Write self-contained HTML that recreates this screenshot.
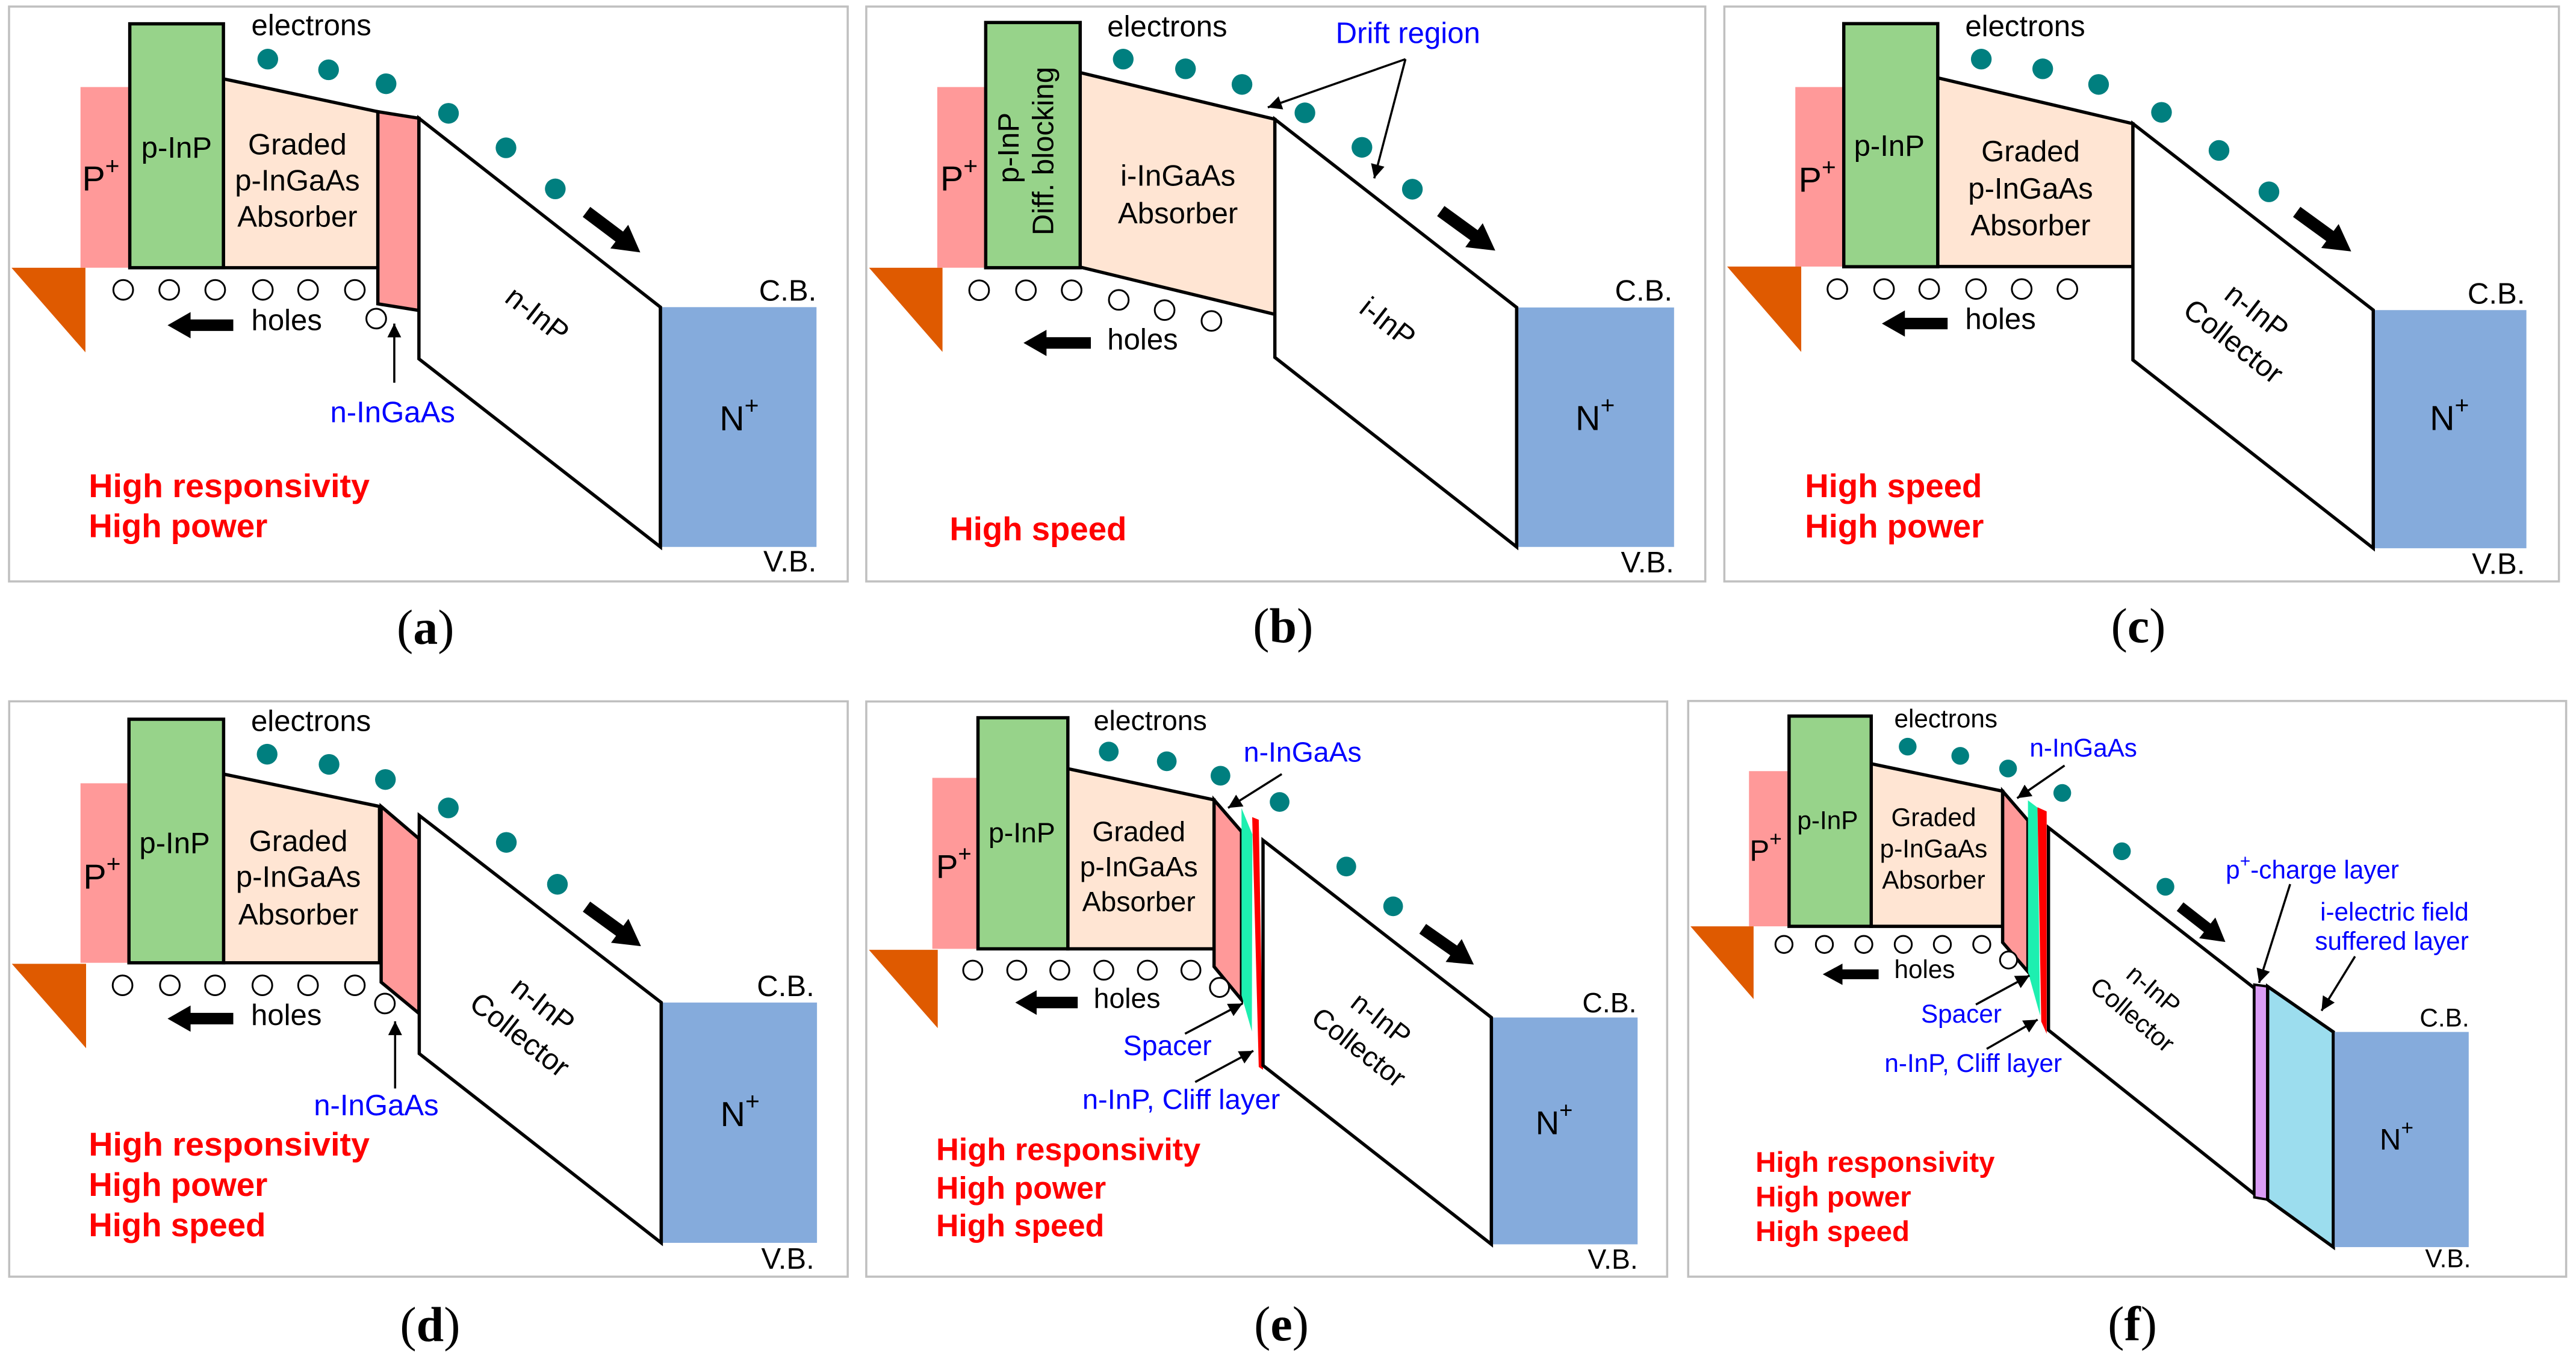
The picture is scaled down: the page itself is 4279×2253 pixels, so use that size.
<!DOCTYPE html>
<html><head><meta charset="utf-8"><style>
html,body{margin:0;padding:0;background:#fff;}
svg{display:block;}
text{font-family:"Liberation Sans",sans-serif;}
.s{stroke:#000;stroke-width:2;stroke-linejoin:miter;}
.fr{fill:none;stroke:#C0C0C0;stroke-width:1.3;}
.pk{fill:#FF9999;}
.gr{fill:#97D38A;stroke:#000;stroke-width:2;}
.ab{fill:#FFE5D3;stroke:#000;stroke-width:2;}
.co{fill:#fff;stroke:#000;stroke-width:2;}
.np{fill:#85ABDC;}
.or{fill:#DF5A00;}
.h{fill:#fff;stroke:#000;stroke-width:1.1;}
.e{fill:#007F7F;}
.red{fill:#FF0000;font-weight:bold;}
.bl{fill:#0000FF;}
.lbl{font-family:"Liberation Serif",serif;font-size:30px;}
.ln{stroke:#000;stroke-width:1.3;fill:none;}
</style></head><body>
<svg width="4279" height="2253" viewBox="0 0 1568 825.6" preserveAspectRatio="none" xmlns="http://www.w3.org/2000/svg">
<defs>
<marker id="ah" viewBox="0 0 10 10" refX="10" refY="5" markerWidth="6.5" markerHeight="6.5" orient="auto" markerUnits="strokeWidth"><path d="M0,0 L10,5 L0,10 z" fill="#000"/></marker>
</defs>

<!-- ============ (a) ============ -->
<rect class="fr" x="5.5" y="4" width="510.5" height="350"/>
<rect class="pk" x="49" y="53" width="31" height="110"/>
<polygon class="or" points="7,163 52,163 52,214.5"/>
<polygon class="ab" points="136,48 230,68 230,163 136,163"/>
<polygon class="pk s" points="230,68 255,72 255,189 230,185"/>
<polygon class="co" points="255,72 402,187 402,333 255,218.5"/>
<rect class="np" x="403" y="187" width="94" height="146"/>
<line class="s" x1="402" y1="187" x2="402" y2="333"/>
<rect class="gr" x="79" y="14.5" width="57" height="148.5"/>
<text x="50" y="116" font-size="21">P<tspan dy="-10" font-size="15">+</tspan></text>
<text x="107.5" y="96" font-size="18" text-anchor="middle">p-InP</text>
<text x="181" y="94" font-size="18" text-anchor="middle">Graded</text>
<text x="181" y="116" font-size="18" text-anchor="middle">p-InGaAs</text>
<text x="181" y="138" font-size="18" text-anchor="middle">Absorber</text>
<g class="h"><circle cx="75" cy="176.5" r="6"/><circle cx="103" cy="176.5" r="6"/><circle cx="131" cy="176.5" r="6"/><circle cx="160" cy="176.5" r="6"/><circle cx="187.5" cy="176.5" r="6"/><circle cx="216" cy="176.5" r="6"/><circle cx="229" cy="194" r="6"/></g>
<polygon transform="translate(102,198)" points="0,0 14,-8 14,-3.5 40,-3.5 40,3.5 14,3.5 14,8"/>
<text x="153" y="201" font-size="18">holes</text>
<text x="153" y="21.5" font-size="18">electrons</text>
<g class="e"><circle cx="163" cy="36" r="6.3"/><circle cx="200" cy="42.5" r="6.3"/><circle cx="235" cy="51" r="6.3"/><circle cx="273" cy="69" r="6.3"/><circle cx="308" cy="90" r="6.3"/><circle cx="338" cy="115" r="6.3"/></g>
<polygon transform="translate(357,129) rotate(37)" points="0,-3.8 25,-3.8 25,-9 41,0 25,9 25,3.8 0,3.8"/>
<text transform="translate(327,191.6) rotate(38)" y="6" font-size="18" text-anchor="middle">n-InP</text>
<text x="438" y="262" font-size="21">N<tspan dy="-10" font-size="15">+</tspan></text>
<text x="497" y="183" font-size="18" text-anchor="end">C.B.</text>
<text x="497" y="348" font-size="18" text-anchor="end">V.B.</text>
<line class="ln" x1="240" y1="233" x2="240" y2="197" marker-end="url(#ah)"/>
<text class="bl" x="239" y="257" font-size="18" text-anchor="middle">n-InGaAs</text>
<text class="red" x="54" y="302.6" font-size="20" textLength="171" lengthAdjust="spacingAndGlyphs">High responsivity</text>
<text class="red" x="54" y="327" font-size="20">High power</text>
<text class="lbl" x="259" y="392" text-anchor="middle">(<tspan font-weight="bold">a</tspan>)</text>

<!-- ============ (b) ============ -->
<rect class="fr" x="527.3" y="4" width="510.7" height="350"/>
<rect class="pk" x="570.5" y="53" width="30" height="110"/>
<polygon class="or" points="529,163 573.7,163 573.7,214.3"/>
<polygon class="ab" points="657.5,44.2 776,72.6 776,191.4 657.5,162.6"/>
<polygon class="co" points="776,72.6 923.2,187.2 923.2,333 776,217.6"/>
<rect class="np" x="924" y="187.2" width="95" height="145.8"/>
<line class="s" x1="923.2" y1="187.2" x2="923.2" y2="333"/>
<rect class="gr" x="600" y="13.7" width="57.5" height="149.3"/>
<text transform="translate(614,90) rotate(-90)" y="6" font-size="18" text-anchor="middle">p-InP</text>
<text transform="translate(635,92) rotate(-90)" y="6" font-size="18" text-anchor="middle">Diff. blocking</text>
<text x="572.4" y="116" font-size="21">P<tspan dy="-10" font-size="15">+</tspan></text>
<text x="717" y="113" font-size="18" text-anchor="middle">i-InGaAs</text>
<text x="717" y="136" font-size="18" text-anchor="middle">Absorber</text>
<g class="h"><circle cx="596" cy="176.7" r="6"/><circle cx="624.5" cy="176.7" r="6"/><circle cx="652.3" cy="176.7" r="6"/><circle cx="681" cy="182.6" r="6"/><circle cx="708.9" cy="188.8" r="6"/><circle cx="737.4" cy="195.4" r="6"/></g>
<polygon transform="translate(623,208.8)" points="0,0 14,-8 14,-3.5 41,-3.5 41,3.5 14,3.5 14,8"/>
<text x="674" y="212.7" font-size="18">holes</text>
<text x="674" y="22.2" font-size="18">electrons</text>
<g class="e"><circle cx="683.7" cy="36" r="6.3"/><circle cx="721.6" cy="41.9" r="6.3"/><circle cx="756" cy="51.4" r="6.3"/><circle cx="794.3" cy="68.7" r="6.3"/><circle cx="829" cy="89.7" r="6.3"/><circle cx="859.7" cy="115.2" r="6.3"/></g>
<polygon transform="translate(877,128.5) rotate(36)" points="0,-3.8 25,-3.8 25,-9 41,0 25,9 25,3.8 0,3.8"/>
<text class="bl" x="813" y="26.2" font-size="18">Drift region</text>
<line class="ln" x1="855.5" y1="36" x2="771.7" y2="65.4" marker-end="url(#ah)"/>
<line class="ln" x1="855.5" y1="36" x2="836.5" y2="108.6" marker-end="url(#ah)"/>
<text transform="translate(844.7,196.3) rotate(38)" y="6" font-size="18" text-anchor="middle">i-InP</text>
<text x="959" y="261.8" font-size="21">N<tspan dy="-10" font-size="15">+</tspan></text>
<text x="1018" y="183" font-size="18" text-anchor="end">C.B.</text>
<text x="1019" y="348.5" font-size="18" text-anchor="end">V.B.</text>
<text class="red" x="578" y="328.9" font-size="20">High speed</text>
<text class="lbl" x="781" y="391" text-anchor="middle">(<tspan font-weight="bold">b</tspan>)</text>

<!-- ============ (c) ============ -->
<rect class="fr" x="1049.6" y="4" width="508" height="350"/>
<rect class="pk" x="1092.8" y="53" width="30" height="109.3"/>
<polygon class="or" points="1051.3,162.3 1096.4,162.3 1096.4,214.3"/>
<polygon class="ab" points="1179.5,47.4 1298.3,75.3 1298.3,162.3 1179.5,162.3"/>
<polygon class="co" points="1298.3,75.3 1444.6,188.8 1444.6,333.8 1298.3,219.2"/>
<rect class="np" x="1445.4" y="188.8" width="92.4" height="145"/>
<line class="s" x1="1444.6" y1="188.8" x2="1444.6" y2="333.8"/>
<rect class="gr" x="1122.3" y="14.4" width="57.2" height="148"/>
<text x="1094.8" y="116.8" font-size="21">P<tspan dy="-10" font-size="15">+</tspan></text>
<text x="1150" y="94.9" font-size="18" text-anchor="middle">p-InP</text>
<text x="1236" y="98.2" font-size="18" text-anchor="middle">Graded</text>
<text x="1236" y="121" font-size="18" text-anchor="middle">p-InGaAs</text>
<text x="1236" y="143.3" font-size="18" text-anchor="middle">Absorber</text>
<g class="h"><circle cx="1118.4" cy="176" r="6"/><circle cx="1146.8" cy="176" r="6"/><circle cx="1174.3" cy="176" r="6"/><circle cx="1202.8" cy="176" r="6"/><circle cx="1230.6" cy="176" r="6"/><circle cx="1258.4" cy="176" r="6"/></g>
<polygon transform="translate(1145.5,197)" points="0,0 14,-8 14,-3.5 40,-3.5 40,3.5 14,3.5 14,8"/>
<text x="1196.2" y="200.3" font-size="18">holes</text>
<text x="1196.2" y="22" font-size="18">electrons</text>
<g class="e"><circle cx="1206" cy="36" r="6.3"/><circle cx="1243.4" cy="41.9" r="6.3"/><circle cx="1277.4" cy="51.4" r="6.3"/><circle cx="1315.7" cy="68.4" r="6.3"/><circle cx="1350.7" cy="91.6" r="6.3"/><circle cx="1381.1" cy="116.8" r="6.3"/></g>
<polygon transform="translate(1398,129) rotate(36)" points="0,-3.8 25,-3.8 25,-9 41,0 25,9 25,3.8 0,3.8"/>
<g transform="translate(1373.6,189.8) rotate(38)"><text y="6" font-size="18" text-anchor="middle">n-InP</text><text y="29" font-size="18" text-anchor="middle">Collector</text></g>
<text x="1479" y="261.8" font-size="21">N<tspan dy="-10" font-size="15">+</tspan></text>
<text x="1537" y="184.9" font-size="18" text-anchor="end">C.B.</text>
<text x="1537" y="349.5" font-size="18" text-anchor="end">V.B.</text>
<text class="red" x="1098.7" y="302.7" font-size="20">High speed</text>
<text class="red" x="1098.7" y="327.2" font-size="20">High power</text>
<text class="lbl" x="1301.6" y="391" text-anchor="middle">(<tspan font-weight="bold">c</tspan>)</text>

<!-- ============ (d) ============ -->
<rect class="fr" x="5.6" y="427" width="510.4" height="350.3"/>
<rect class="pk" x="49" y="476.9" width="30" height="109.3"/>
<polygon class="or" points="7.2,586.8 52.4,586.8 52.4,638.2"/>
<polygon class="ab" points="136.1,471.3 231,491 231,586.2 136.1,586.2"/>
<polygon class="pk s" points="232,491 255,510.6 255,617 232,598"/>
<polygon class="co" points="255.2,496.5 402.5,610.4 402.5,756.7 255.2,641.5"/>
<rect class="np" x="403.3" y="610.4" width="94" height="146.3"/>
<line class="s" x1="402.5" y1="610.4" x2="402.5" y2="756.7"/>
<rect class="gr" x="78.5" y="437.9" width="57.6" height="148.3"/>
<text x="50.7" y="541" font-size="21">P<tspan dy="-10" font-size="15">+</tspan></text>
<text x="106.3" y="519.4" font-size="18" text-anchor="middle">p-InP</text>
<text x="181.6" y="518.1" font-size="18" text-anchor="middle">Graded</text>
<text x="181.6" y="540" font-size="18" text-anchor="middle">p-InGaAs</text>
<text x="181.6" y="562.9" font-size="18" text-anchor="middle">Absorber</text>
<g class="h"><circle cx="74.6" cy="599.9" r="6"/><circle cx="103.4" cy="599.9" r="6"/><circle cx="130.9" cy="599.9" r="6"/><circle cx="159.7" cy="599.9" r="6"/><circle cx="187.5" cy="599.9" r="6"/><circle cx="216" cy="599.9" r="6"/><circle cx="234.3" cy="611" r="6"/></g>
<polygon transform="translate(102,620.2)" points="0,0 14,-8 14,-3.5 40,-3.5 40,3.5 14,3.5 14,8"/>
<text x="152.8" y="624.1" font-size="18">holes</text>
<text x="152.8" y="445.1" font-size="18">electrons</text>
<g class="e"><circle cx="162.6" cy="459.2" r="6.3"/><circle cx="200.3" cy="465.4" r="6.3"/><circle cx="234.6" cy="474.6" r="6.3"/><circle cx="272.9" cy="491.9" r="6.3"/><circle cx="308.2" cy="512.9" r="6.3"/><circle cx="339.3" cy="538.4" r="6.3"/></g>
<polygon transform="translate(357,552) rotate(36)" points="0,-3.8 25,-3.8 25,-9 41,0 25,9 25,3.8 0,3.8"/>
<g transform="translate(330.5,612) rotate(38)"><text y="6" font-size="18" text-anchor="middle">n-InP</text><text y="29" font-size="18" text-anchor="middle">Collector</text></g>
<text x="438.5" y="685.6" font-size="21">N<tspan dy="-10" font-size="15">+</tspan></text>
<text x="495.7" y="606.5" font-size="18" text-anchor="end">C.B.</text>
<text x="495.7" y="772.4" font-size="18" text-anchor="end">V.B.</text>
<line class="ln" x1="240.5" y1="662.7" x2="240.5" y2="621.8" marker-end="url(#ah)"/>
<text class="bl" x="229" y="679" font-size="18" text-anchor="middle">n-InGaAs</text>
<text class="red" x="54" y="703.6" font-size="20" textLength="171" lengthAdjust="spacingAndGlyphs">High responsivity</text>
<text class="red" x="54" y="728.2" font-size="20">High power</text>
<text class="red" x="54" y="752.7" font-size="20">High speed</text>
<text class="lbl" x="261.8" y="816.5" text-anchor="middle">(<tspan font-weight="bold">d</tspan>)</text>

<!-- ============ (e) ============ -->
<rect class="fr" x="527.3" y="427.1" width="487.5" height="350.2"/>
<rect class="pk" x="567.5" y="473.6" width="28" height="104.1"/>
<polygon class="or" points="528.9,578.3 570.8,578.3 570.8,626"/>
<polygon class="ab" points="650,468 739,487 739,577.7 650,577.7"/>
<polygon class="pk s" points="739,487 755.7,506.3 755.7,608.7 739,588.5"/>
<polygon fill="#1DEFB0" points="755.7,492 762.3,508 762,628 755.7,606"/>
<polygon fill="#FF0000" points="762.2,497.5 766.2,499.1 768.8,651.3 766.2,649.6"/>
<polygon class="co" points="768.8,511.6 907.8,619.5 907.8,757.6 768.8,648.7"/>
<rect class="np" x="908.6" y="619.5" width="88.2" height="138.1"/>
<line class="s" x1="907.8" y1="619.5" x2="907.8" y2="757.6"/>
<rect class="gr" x="595.3" y="437" width="54.7" height="140.7"/>
<text x="569.8" y="534.5" font-size="20">P<tspan dy="-10" font-size="14">+</tspan></text>
<text x="622" y="512.9" font-size="17" text-anchor="middle">p-InP</text>
<text x="693.2" y="512.2" font-size="17" text-anchor="middle">Graded</text>
<text x="693.2" y="533.5" font-size="17" text-anchor="middle">p-InGaAs</text>
<text x="693.2" y="554.8" font-size="17" text-anchor="middle">Absorber</text>
<g class="h"><circle cx="592.1" cy="590.7" r="5.8"/><circle cx="618.9" cy="590.7" r="5.8"/><circle cx="645.1" cy="590.7" r="5.8"/><circle cx="671.9" cy="590.7" r="5.8"/><circle cx="698.4" cy="590.7" r="5.8"/><circle cx="724.9" cy="590.7" r="5.8"/><circle cx="742.3" cy="601.2" r="5.8"/></g>
<polygon transform="translate(618,610.4)" points="0,0 13,-7.5 13,-3.5 38,-3.5 38,3.5 13,3.5 13,7.5"/>
<text x="665.7" y="613.7" font-size="17">holes</text>
<text x="665.7" y="444.5" font-size="17">electrons</text>
<g class="e"><circle cx="674.9" cy="457.6" r="6"/><circle cx="710.2" cy="463.5" r="6"/><circle cx="742.9" cy="472.3" r="6"/><circle cx="778.9" cy="488.3" r="6"/><circle cx="819.5" cy="527.6" r="6"/><circle cx="848" cy="551.8" r="6"/></g>
<polygon transform="translate(866,565.5) rotate(35)" points="0,-3.6 23,-3.6 23,-8.5 38,0 23,8.5 23,3.6 0,3.6"/>
<g transform="translate(840.8,620.2) rotate(38)"><text y="6" font-size="17" text-anchor="middle">n-InP</text><text y="28" font-size="17" text-anchor="middle">Collector</text></g>
<text x="934.7" y="690.6" font-size="20">N<tspan dy="-10" font-size="14">+</tspan></text>
<text x="996.2" y="616.3" font-size="17" text-anchor="end">C.B.</text>
<text x="997" y="772.4" font-size="17" text-anchor="end">V.B.</text>
<text class="bl" x="757" y="463.8" font-size="17">n-InGaAs</text>
<line class="ln" x1="780.2" y1="471.3" x2="747.5" y2="491.9" marker-end="url(#ah)"/>
<text class="bl" x="683.7" y="642.4" font-size="17">Spacer</text>
<line class="ln" x1="721.3" y1="629.4" x2="756.3" y2="611" marker-end="url(#ah)"/>
<text class="bl" x="658.8" y="675.2" font-size="17" textLength="120.4" lengthAdjust="spacingAndGlyphs">n-InP, Cliff layer</text>
<line class="ln" x1="727.5" y1="658.8" x2="762.9" y2="639.8" marker-end="url(#ah)"/>
<text class="red" x="569.8" y="706.3" font-size="19" textLength="161" lengthAdjust="spacingAndGlyphs">High responsivity</text>
<text class="red" x="569.8" y="729.8" font-size="19">High power</text>
<text class="red" x="569.8" y="752.7" font-size="19">High speed</text>
<text class="lbl" x="780" y="816" text-anchor="middle">(<tspan font-weight="bold">e</tspan>)</text>

<!-- ============ (f) ============ -->
<rect class="fr" x="1027.6" y="426.8" width="534.4" height="350.5"/>
<rect class="pk" x="1064.6" y="469.5" width="25" height="94.5"/>
<polygon class="or" points="1029,564 1067.4,564 1067.4,608.3"/>
<polygon class="ab" points="1139,465 1219,481.7 1219,564 1139,564"/>
<polygon class="pk s" points="1219,481.7 1234.4,499.5 1234.4,591.6 1219,573.8"/>
<polygon fill="#1DEFB0" points="1234.4,487.3 1240.2,491.7 1241.8,618.3 1234.4,591.6"/>
<polygon fill="#FF0000" points="1240.2,491.5 1245.8,494 1245.8,629.4 1242.5,622"/>
<polygon class="co" points="1246.9,503.9 1372.2,601.6 1372.2,727 1246.9,627.2"/>
<polygon fill="#DA9CF5" stroke="#000" stroke-width="1.5" points="1372.2,599.5 1380.3,600.6 1380.3,730.4 1372.2,729"/>
<polygon fill="#9CDDEE" stroke="#000" stroke-width="2" points="1380.3,600.6 1420.3,628.3 1420.3,759.3 1380.3,730.4"/>
<rect class="np" x="1421.1" y="628.3" width="81.6" height="131"/>
<rect class="gr" x="1089" y="436" width="50" height="128"/>
<text x="1065" y="524" font-size="18">P<tspan dy="-9" font-size="13">+</tspan></text>
<text x="1112.5" y="504.8" font-size="15.5" text-anchor="middle">p-InP</text>
<text x="1177" y="503" font-size="15.5" text-anchor="middle">Graded</text>
<text x="1177" y="522" font-size="15.5" text-anchor="middle">p-InGaAs</text>
<text x="1177" y="541" font-size="15.5" text-anchor="middle">Absorber</text>
<g class="h"><circle cx="1085.9" cy="575" r="5.2"/><circle cx="1110.5" cy="575" r="5.2"/><circle cx="1134.5" cy="575" r="5.2"/><circle cx="1158.5" cy="575" r="5.2"/><circle cx="1182.3" cy="575" r="5.2"/><circle cx="1206.3" cy="575" r="5.2"/><circle cx="1222.6" cy="584.5" r="5.2"/></g>
<polygon transform="translate(1109.5,593.2)" points="0,0 12,-6.5 12,-3 34,-3 34,3 12,3 12,6.5"/>
<text x="1153" y="595.5" font-size="15.5">holes</text>
<text x="1153" y="442.8" font-size="15.5">electrons</text>
<g class="e"><circle cx="1161.2" cy="454.6" r="5.4"/><circle cx="1193.2" cy="460.2" r="5.4"/><circle cx="1222.3" cy="467.9" r="5.4"/><circle cx="1255.3" cy="482.8" r="5.4"/><circle cx="1291.6" cy="518.3" r="5.4"/><circle cx="1318.1" cy="539.9" r="5.4"/></g>
<polygon transform="translate(1327,552) rotate(38)" points="0,-3.3 21,-3.3 21,-8 35,0 21,8 21,3.3 0,3.3"/>
<g transform="translate(1310.7,602.7) rotate(40)"><text y="5" font-size="15.5" text-anchor="middle">n-InP</text><text y="25" font-size="15.5" text-anchor="middle">Collector</text></g>
<text x="1448.5" y="699.9" font-size="18">N<tspan dy="-9" font-size="13">+</tspan></text>
<text x="1503" y="624.9" font-size="15.5" text-anchor="end">C.B.</text>
<text x="1504" y="771.5" font-size="15.5" text-anchor="end">V.B.</text>
<text class="bl" x="1235.4" y="460.6" font-size="15.5">n-InGaAs</text>
<line class="ln" x1="1256.7" y1="466.1" x2="1227.8" y2="486" marker-end="url(#ah)"/>
<text class="bl" x="1169.3" y="622.6" font-size="15.5">Spacer</text>
<line class="ln" x1="1202.7" y1="611.6" x2="1235.4" y2="593.9" marker-end="url(#ah)"/>
<text class="bl" x="1147.1" y="652.7" font-size="15.5" textLength="108" lengthAdjust="spacingAndGlyphs">n-InP, Cliff layer</text>
<line class="ln" x1="1209.3" y1="638.6" x2="1240.3" y2="620.8" marker-end="url(#ah)"/>
<text class="bl" x="1354.8" y="534.9" font-size="15.5">p<tspan dy="-7" font-size="11">+</tspan><tspan dy="7">-charge layer</tspan></text>
<line class="ln" x1="1394" y1="538.3" x2="1375.1" y2="598.4" marker-end="url(#ah)"/>
<text class="bl" x="1502.7" y="560.5" font-size="15.5" text-anchor="end">i-electric field</text>
<text class="bl" x="1502.7" y="578.3" font-size="15.5" text-anchor="end">suffered layer</text>
<line class="ln" x1="1433.5" y1="582.3" x2="1413.1" y2="615.4" marker-end="url(#ah)"/>
<text class="red" x="1068.6" y="713.5" font-size="17.4" textLength="145.6" lengthAdjust="spacingAndGlyphs">High responsivity</text>
<text class="red" x="1068.6" y="734.6" font-size="17.4">High power</text>
<text class="red" x="1068.6" y="755.7" font-size="17.4">High speed</text>
<text class="lbl" x="1298" y="816" text-anchor="middle">(<tspan font-weight="bold">f</tspan>)</text>
</svg>
</body></html>
